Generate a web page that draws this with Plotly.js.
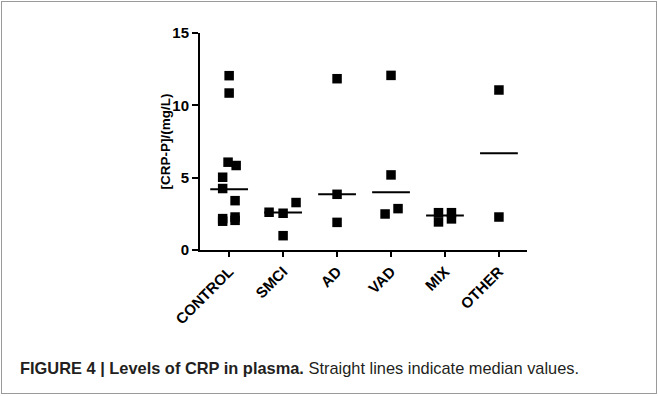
<!DOCTYPE html>
<html>
<head>
<meta charset="utf-8">
<script src="https://cdn.plot.ly/plotly-3.0.1.min.js"></script>
<style>
html,body{margin:0;padding:0;background:#fff;}
#wrap{position:relative;width:658px;height:396px;overflow:hidden;}
#frame{position:absolute;left:1px;top:1px;width:654px;height:391px;border:1px solid #9a9a9a;}
#chart{position:absolute;left:0;top:0;width:658px;height:396px;}
</style>
</head>
<body>
<div id="wrap"><div id="frame"></div><div id="chart"></div></div>
<script>
// Categories and values
const categories = ['CONTROL','SMCI','AD','VAD','MIX','OTHER'];
const controlValues = [12.05, 10.85, 6.07, 5.84, 5.03, 4.25, 3.41, 2.28, 2.05, 2.17, 1.99];
const controlJitter = [0, 0, -0.02, 0.13, -0.12, -0.12, 0.11, 0.11, 0.11, -0.12, -0.12];
const smciValues = [2.61, 2.54, 3.28, 0.99];
const smciJitter = [-0.26, 0, 0.24, 0];
const adValues = [11.84, 3.85, 1.91];
const adJitter = [0, 0, 0];
const vadValues = [12.07, 5.19, 2.86, 2.49];
const vadJitter = [0, 0, 0.13, -0.11];
const mixValues = [2.58, 1.94, 2.58, 2.15];
const mixJitter = [-0.12, -0.12, 0.12, 0.12];
const otherValues = [11.06, 2.28];
const otherJitter = [0, 0];
const medians = [4.2, 2.6, 3.85, 3.99, 2.38, 6.69];
const yTicks = [0, 5, 10, 15];
const yTitle = '[CRP-P]/(mg/L)';

const groups = [
  [controlValues, controlJitter], [smciValues, smciJitter], [adValues, adJitter],
  [vadValues, vadJitter], [mixValues, mixJitter], [otherValues, otherJitter]
];
const px = [], py = [];
groups.forEach((g, i) => {
  g[0].forEach((v, j) => { px.push(i + g[1][j]); py.push(v); });
});
const mx = [], my = [];
const half = 0.35;
medians.forEach((m, i) => { mx.push(i - half, i + half, null); my.push(m, m, null); });

const traces = [
  {x: px, y: py, type: 'scatter', mode: 'markers', cliponaxis: false,
   marker: {symbol: 'square', size: 9.5, color: '#000'}, hoverinfo: 'y'},
  {x: mx, y: my, type: 'scatter', mode: 'lines', cliponaxis: false,
   line: {color: '#000', width: 2}, hoverinfo: 'skip'}
];

const FONT = '"Liberation Sans", Arial, sans-serif';
const layout = {
  width: 658, height: 396,
  margin: {l: 200, r: 131, t: 33, b: 146},
  paper_bgcolor: 'rgba(0,0,0,0)', plot_bgcolor: 'rgba(0,0,0,0)',
  showlegend: false,
  font: {family: FONT, color: '#000'},
  xaxis: {
    range: [-0.54, 5.52], tickmode: 'array',
    tickvals: categories.map((c, i) => i), ticktext: categories,
    tickangle: -45, ticks: 'outside', ticklen: 5, tickwidth: 2, tickcolor: '#000',
    showline: true, linecolor: '#000', linewidth: 2, showgrid: false, zeroline: false,
    tickfont: {size: 15, family: FONT, weight: 'bold'},
    automargin: false
  },
  yaxis: {
    range: [0, 15], tickmode: 'array', tickvals: yTicks, ticktext: yTicks.map(String),
    ticks: 'outside', ticklen: 6, tickwidth: 2, tickcolor: '#000',
    showline: true, linecolor: '#000', linewidth: 2, showgrid: false, zeroline: false,
    tickfont: {size: 15, family: FONT, weight: 'bold'},
    automargin: false
  },
  annotations: [{
    xref: 'paper', yref: 'paper', x: -0.107, y: 0.5,
    xanchor: 'center', yanchor: 'middle', showarrow: false, textangle: -90,
    text: '<b>' + yTitle + '</b>',
    font: {size: 13.5, family: FONT, color: '#000'}
  }, {
    xref: 'paper', yref: 'paper', x: -0.5566, y: -0.5438,
    xanchor: 'left', yanchor: 'middle', showarrow: false,
    text: '<b>FIGURE 4 | Levels of CRP in plasma.</b> Straight lines indicate median values.',
    font: {size: 16.4, family: FONT, color: '#231f20'}
  }]
};

Plotly.newPlot('chart', traces, layout, {displayModeBar: false, staticPlot: true});
</script>
</body>
</html>
